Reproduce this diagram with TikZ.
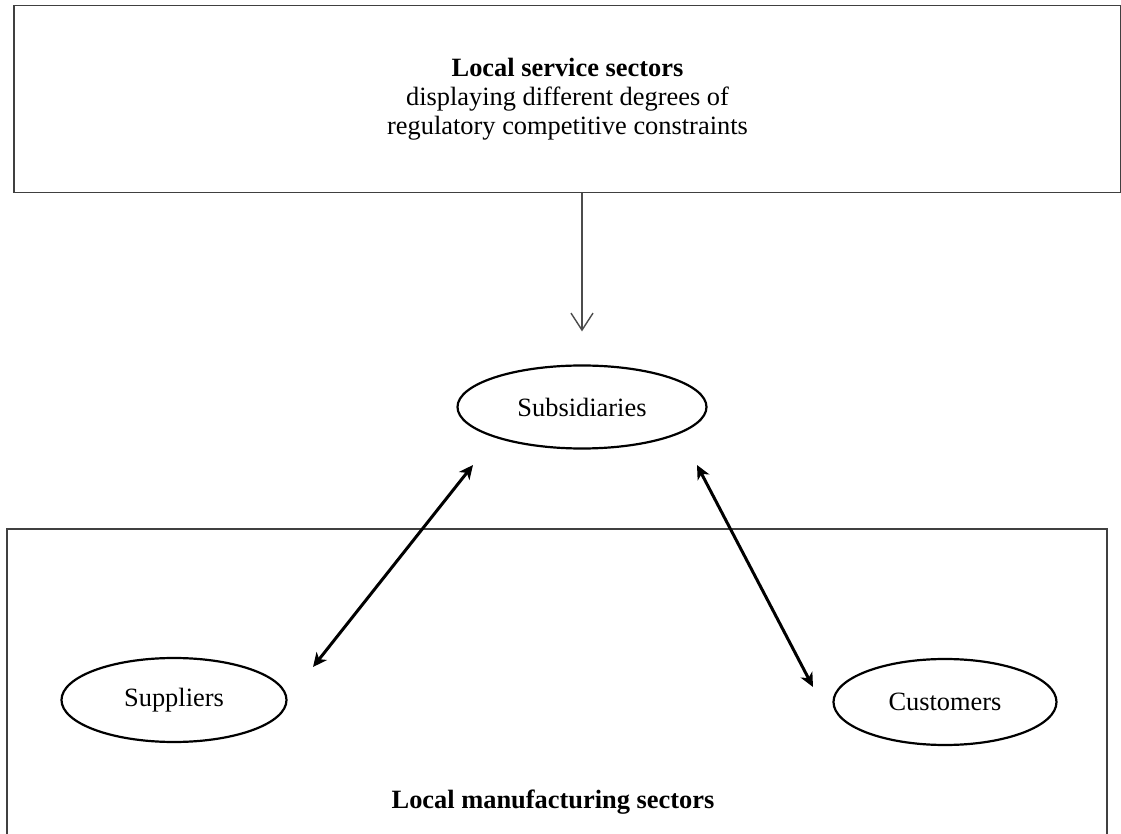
\documentclass[tikz,border=0pt]{standalone}
\usepackage{fontspec}
\setmainfont{Liberation Serif}
\usetikzlibrary{shapes.geometric,arrows.meta}

\begin{document}
\begin{tikzpicture}[x=0.5pt,y=-0.5pt,
  sector/.style={draw=black!75,line width=0.8pt},
  firm/.style={ellipse,draw,line width=1.1pt,inner sep=0pt,font=\fontsize{13.2}{15}\selectfont},
  link/.style={line width=1.5pt,{Stealth[length=7pt,width=6.5pt,inset=2pt]}-{Stealth[length=7pt,width=6.5pt,inset=2pt]}},
  down/.style={draw=black!70,line width=0.7pt,-{Straight Barb[length=8.5pt,width=11pt]}}]

 \useasboundingbox (0,0) rectangle (1121,834);

 \node[sector,minimum width=553.5pt,minimum height=93.5pt,align=center,font=\fontsize{13.2}{14.5}\selectfont] (service) at (567.5,99)
   {\textbf{Local service sectors}\\displaying different degrees of\\regulatory competitive constraints};

 \draw[sector] (7,840) -- (7,529) -- (1107,529) -- (1107,840);
 \path (553,802) node[font=\fontsize{13.2}{15}\selectfont\bfseries] (manufacturing) {Local manufacturing sectors};

 \node[firm,minimum width=124.5pt,minimum height=41.5pt] (subsidiaries) at (582,407) {Subsidiaries};
 \node[firm,minimum width=112.5pt,minimum height=42pt] (suppliers) at (174,700) {Suppliers};
 \node[firm,minimum width=111.5pt,minimum height=43pt] (customers) at (945,702) {Customers};

 \draw[down,shorten >=16.5pt] (service.south -| subsidiaries.north) -- (subsidiaries.north);

 \coordinate (supend) at (313,667);
 \coordinate (subleft) at (473,465);
 \coordinate (subright) at (697,465);
 \coordinate (custend) at (813,687);
 \draw[link] (supend) -- (subleft);
 \draw[link] (subright) -- (custend);
\end{tikzpicture}
\end{document}
